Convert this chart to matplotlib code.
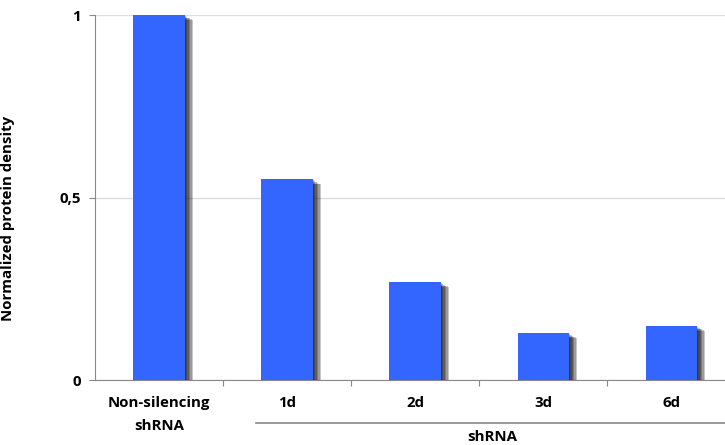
import matplotlib
matplotlib.use("Agg")
import matplotlib.pyplot as plt
import matplotlib.patheffects as pe

# data
categories = ["Non-silencing\nshRNA", "1d", "2d", "3d", "6d"]
values = [1.0, 0.55, 0.268, 0.128, 0.148]
yticks = [0, 0.5, 1]
ytick_labels = ["0", "0,5", "1"]
group_label = "shRNA"

plt.rcParams['font.family'] = ['Open Sans', 'DejaVu Sans']
plt.rcParams['font.weight'] = 'bold'
fs = 10.8

fig = plt.figure(figsize=(7.25, 4.45), dpi=100)
ax = fig.add_axes([0.131, 0.146, 0.869, 0.82])

x = list(range(len(categories)))

# soft drop shadow: a few offset shadows with low alpha
shadows = [pe.SimplePatchShadow(offset=(o, -0.6 * o), shadow_rgbFace='black', alpha=0.22)
           for o in (1, 2, 3, 4, 5, 6)]
ax.bar(x, values, width=0.4, color='#3366ff', zorder=3,
       path_effects=shadows + [pe.Normal()])

ax.set_xlim(-0.5, 4.42)
ax.set_ylim(0, 1)
ax.set_yticks(yticks)
ax.set_yticklabels(ytick_labels, fontsize=fs, fontweight='bold')
ax.yaxis.grid(True, color='#dddddd', linewidth=1, zorder=0)
ax.set_axisbelow(True)

# category boundary ticks, labels placed by hand below
ax.set_xticks([i + 0.5 for i in range(len(categories) - 1)])
ax.set_xticklabels([])
ax.tick_params(axis='x', direction='out', length=4, color='#888888')
ax.tick_params(axis='y', direction='out', length=4, color='#888888', pad=6)

for s in ('top', 'right'):
    ax.spines[s].set_visible(False)
for s in ('left', 'bottom'):
    ax.spines[s].set_color('#888888')

trans = ax.get_xaxis_transform()
for i, c in enumerate(categories):
    ax.text(i, -0.045, c, transform=trans, ha='center', va='top',
            fontsize=fs, fontweight='bold', linespacing=1.8)

# group bracket under the shRNA time points
ax.plot([0.76, 4.42], [-0.117, -0.117], transform=trans, color='#888888',
        linewidth=1.2, clip_on=False)
ax.text(2.6, -0.138, group_label, transform=trans, ha='center', va='top',
        fontsize=fs, fontweight='bold')

ax.set_ylabel("Normalized protein density", fontsize=fs, fontweight='bold')
ax.yaxis.set_label_coords(-0.127, 0.444)

fig.savefig("out.png", dpi=100)
